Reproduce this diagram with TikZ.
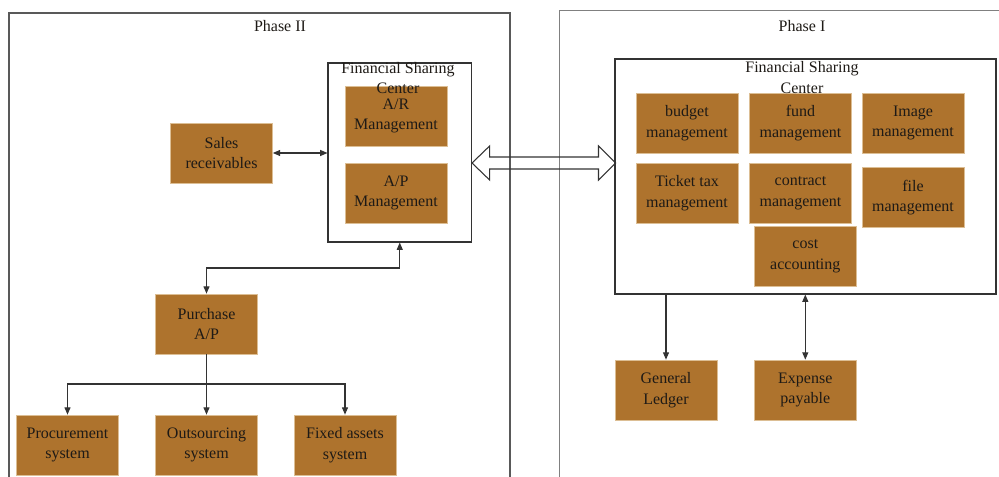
\documentclass[tikz,border=0pt]{standalone}
\usepackage{fontspec}
\setmainfont{Liberation Serif}
\usetikzlibrary{arrows.meta}
\definecolor{boxfill}{HTML}{AE732D}
\definecolor{boxedge}{HTML}{DCBE94}
\definecolor{linec}{HTML}{333333}
\definecolor{txt}{HTML}{1E1A16}
\begin{document}
\begin{tikzpicture}[x=0.75pt,y=-0.75pt,
  txtfont/.style={font=\fontsize{12pt}{15.4pt}\selectfont, text=txt},
  box/.style={txtfont, draw=boxedge, line width=0.5pt, fill=boxfill, align=center,
    inner sep=0pt, minimum width=76.5pt, minimum height=45pt,
    execute at begin node={\rule{0pt}{11pt}}},
  frame/.style={draw=linec, line width=0.8pt, inner sep=0pt, fill=none},
  tip/.tip={Triangle[length=5.5pt,width=4.5pt]},
  conn/.style={draw=linec, line width=0.8pt},
  phasetwo/.style={draw=black!65, line width=0.8pt},
  phaseone/.style={draw=black!50, line width=0.7pt},
  lbl/.style={txtfont, align=center, inner sep=0pt}
]
\useasboundingbox (0,0) rectangle (999,477);
\clip (0,0) rectangle (999,477);

% phase frames
\draw[phasetwo] (9,13) rectangle (510,495);
\draw[phaseone] (559,10) rectangle (1010,495);
\node[lbl] (p2) at (280,26) {Phase II};
\node[lbl] (p1) at (802,26) {Phase I};

% Phase II
\node[frame, minimum width=107.6pt, minimum height=134.25pt] (fscL) at (399.75,152.5) {};
\node[box] (ar) at (396,116) {A/R\\Management};
\node[box] (ap) at (396,193) {A/P\\Management};
\node[lbl] (fscLl) at (398,78) {Financial Sharing\\Center};
\node[box] (sales) at (221.5,153) {Sales\\receivables};
\node[box] (pur) at (206.5,324) {Purchase\\A/P};
\node[box] (proc) at (67.5,445) {Procurement\\system};
\node[box] (out) at (206.5,445) {Outsourcing\\system};
\node[box] (fix) at (345,445) {Fixed assets\\system};

\coordinate (j1) at (300,268);
\coordinate (j2) at (200,384);
\draw[conn, tip-tip] (sales.east) -- (sales.east -| fscL.west);
\draw[conn, tip-tip] (fscL.south) -- (fscL.south |- j1) -| (pur.north);
\draw[conn, -tip] (pur.south) -- (out.north);
\draw[conn, -tip] (pur.south) -- (pur.south |- j2) -| (proc.north);
\draw[conn, -tip] (pur.south |- j2) -| (fix.north);

% Phase I
\node[frame, minimum width=285.75pt, minimum height=176.25pt] (fscR) at (805.5,176.5) {};
\node[box] (budget) at (687,123) {budget\\management};
\node[box] (fund) at (800.5,123) {fund\\management};
\node[box] (image) at (913,123) {Image\\management};
\node[box] (ticket) at (687,193) {Ticket tax\\management};
\node[box] (contract) at (800.5,193) {contract\\management};
\node[box] (file) at (913,197.7) {file\\management};
\node[box] (cost) at (805.3,256.2) {cost\\accounting};
\node[lbl] (fscRl) at (802,77.5) {Financial Sharing\\Center};
\node[box] (gl) at (666,390) {General\\Ledger};
\node[box] (exp) at (805.3,390) {Expense\\payable};

\draw[conn, -tip] (gl.north |- fscR.south) -- (gl.north);
\draw[conn, tip-tip] (exp.north |- fscR.south) -- (exp.north);

% hollow double arrow between the two centres
\draw[draw=linec, line width=0.8pt, line join=miter]
  (472,163) -- (489.6,146) -- (489.6,157) -- (598.5,157) -- (598.5,146)
  -- (615.5,163) -- (598.5,180) -- (598.5,169) -- (489.6,169) -- (489.6,180) -- cycle;
\end{tikzpicture}
\end{document}
